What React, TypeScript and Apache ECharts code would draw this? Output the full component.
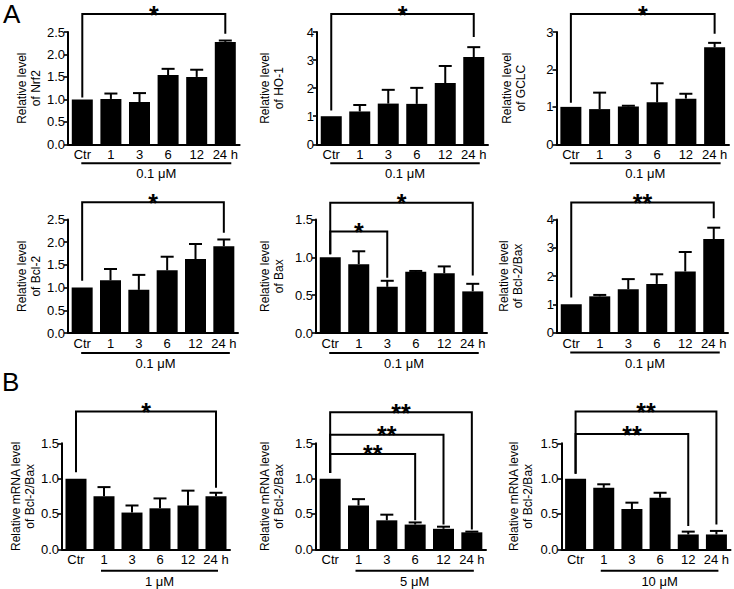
import React, { useEffect, useRef } from 'react';
import * as echarts from 'echarts';

const categories = ['Ctr', '1', '3', '6', '12', '24 h'];

const nrf2Mean = [1.0, 1.01, 0.94, 1.54, 1.5, 2.28];
const nrf2Err = [0, 0.12, 0.2, 0.14, 0.16, 0.03];
const ho1Mean = [1.0, 1.17, 1.45, 1.44, 2.18, 3.11];
const ho1Err = [0, 0.23, 0.49, 0.57, 0.61, 0.35];
const gclcMean = [1.0, 0.94, 1.01, 1.12, 1.22, 2.59];
const gclcErr = [0, 0.44, 0.02, 0.51, 0.13, 0.12];
const bcl2Mean = [1.0, 1.16, 0.95, 1.38, 1.63, 1.91];
const bcl2Err = [0, 0.25, 0.33, 0.3, 0.33, 0.15];
const baxMean = [1.0, 0.91, 0.61, 0.81, 0.79, 0.55];
const baxErr = [0, 0.17, 0.08, 0.01, 0.09, 0.1];
const ratioMean = [1.0, 1.28, 1.53, 1.72, 2.16, 3.31];
const ratioErr = [0, 0.05, 0.36, 0.34, 0.69, 0.4];
const mrna1Mean = [1.0, 0.75, 0.52, 0.58, 0.62, 0.75];
const mrna1Err = [0, 0.13, 0.1, 0.14, 0.21, 0.05];
const mrna5Mean = [1.0, 0.62, 0.41, 0.35, 0.29, 0.24];
const mrna5Err = [0, 0.09, 0.08, 0.03, 0.03, 0.01];
const mrna10Mean = [1.0, 0.87, 0.57, 0.73, 0.21, 0.21];
const mrna10Err = [0, 0.05, 0.09, 0.07, 0.04, 0.05];

const panelMeans = [nrf2Mean, ho1Mean, gclcMean, bcl2Mean, baxMean, ratioMean, mrna1Mean, mrna5Mean, mrna10Mean];
const panelErrs = [nrf2Err, ho1Err, gclcErr, bcl2Err, baxErr, ratioErr, mrna1Err, mrna5Err, mrna10Err];

const yNames = [
  'Relative level\nof Nrf2',
  'Relative level\nof HO-1',
  'Relative level\nof GCLC',
  'Relative level\nof Bcl-2',
  'Relative level\nof Bax',
  'Relative level\nof Bcl-2/Bax',
  'Relative mRNA level\nof Bcl-2/Bax',
  'Relative mRNA level\nof Bcl-2/Bax',
  'Relative mRNA level\nof Bcl-2/Bax',
];
const yMax = [2.5, 4, 3, 2.5, 1.5, 4, 1.5, 1.5, 1.5];
const yStep = [0.5, 1, 1, 0.5, 0.5, 1, 0.5, 0.5, 0.5];
const yDecimals = [1, 0, 0, 1, 1, 0, 1, 1, 1];

const doseLabels = ['0.1 μM', '0.1 μM', '0.1 μM', '0.1 μM', '0.1 μM', '0.1 μM', '1 μM', '5 μM', '10 μM'];
const doseStartIndex = [0, 0, 0, 0, 0, 0, 1, 1, 1];

// [panel, fromIndex, toIndex, bracketLevel, leftEnd, rightEnd]
const brackets = [
  [0, 0, 5, 2.9, 1.04, 2.46],
  [1, 0, 5, 4.64, 1.2, 3.82],
  [2, 0, 5, 3.48, 1.11, 2.95],
  [3, 0, 5, 2.88, 1.15, 2.21],
  [4, 0, 5, 1.72, 1.04, 0.76],
  [4, 0, 2, 1.34, 1.04, 0.73],
  [5, 0, 5, 4.6, 1.24, 4.04],
  [6, 0, 5, 1.95, 1.09, 0.87],
  [7, 0, 5, 1.94, 1.08, 0.28],
  [7, 0, 4, 1.62, 1.08, 0.35],
  [7, 0, 3, 1.35, 1.08, 0.41],
  [8, 0, 5, 1.95, 1.07, 0.35],
  [8, 0, 4, 1.63, 1.07, 0.33],
];
const bracketStars = ['*', '*', '*', '*', '*', '*', '**', '*', '**', '**', '**', '**', '**'];

// layout (pixels)
const grids = [
  { left: 68, top: 32, width: 171.6, height: 112.3 },
  { left: 317, top: 32, width: 171, height: 112.3 },
  { left: 556.5, top: 32, width: 172.5, height: 112.3 },
  { left: 68, top: 219.5, width: 170, height: 113.5 },
  { left: 316, top: 219.5, width: 171, height: 113.5 },
  { left: 557, top: 219.5, width: 171, height: 113 },
  { left: 62, top: 443.3, width: 168, height: 106 },
  { left: 316, top: 443.3, width: 170, height: 106 },
  { left: 561.5, top: 443.3, width: 169, height: 106 },
];
const nameGaps = [23, 31, 29, 22, 30, 32, 20, 30, 27];
const doseOffset = [19, 19, 19, 20, 20, 20, 21.5, 21.5, 21.5];

const FONT = '"Liberation Sans", Arial, Helvetica, sans-serif';

export default function App() {
  const ref = useRef<HTMLDivElement>(null);
  useEffect(() => {
    if (!ref.current) return;
    const chart = echarts.init(ref.current, undefined, { renderer: 'svg' });

    const xAxes: any[] = [];
    const yAxes: any[] = [];
    const series: any[] = [];

    grids.forEach((g, p) => {
      xAxes.push({
        type: 'category',
        gridIndex: p,
        data: categories,
        axisLine: { show: true, lineStyle: { color: '#000', width: 2 } },
        axisTick: { show: false },
        axisLabel: { color: '#000', fontSize: 13, fontFamily: FONT, margin: 4, interval: 0 },
        splitLine: { show: false },
      });
      yAxes.push({
        type: 'value',
        gridIndex: p,
        min: 0,
        max: yMax[p],
        interval: yStep[p],
        name: yNames[p],
        nameLocation: 'middle',
        nameRotate: 90,
        nameGap: nameGaps[p],
        nameTextStyle: { color: '#000', fontSize: 12, fontFamily: FONT, lineHeight: 14 },
        axisLine: { show: true, lineStyle: { color: '#000', width: 2 } },
        axisTick: { show: true, length: 4, lineStyle: { color: '#000', width: 1.6 } },
        axisLabel: {
          color: '#000',
          fontSize: 13,
          fontFamily: FONT,
          margin: 3,
          formatter: (v: number) => v.toFixed(yDecimals[p]),
        },
        splitLine: { show: false },
      });

      series.push({
        type: 'bar',
        xAxisIndex: p,
        yAxisIndex: p,
        data: panelMeans[p],
        barWidth: 21,
        itemStyle: { color: '#000' },
        silent: true,
      });

      series.push({
        type: 'custom',
        xAxisIndex: p,
        yAxisIndex: p,
        silent: true,
        encode: { x: 0, y: 1 },
        data: panelMeans[p].map((m, i) => [i, m, panelErrs[p][i]]),
        renderItem: (params: any, api: any) => {
          const idx = api.value(0);
          const m = api.value(1);
          const e = api.value(2);
          if (!e) return { type: 'group', children: [] };
          const p0 = api.coord([idx, m]);
          const p1 = api.coord([idx, m + e]);
          const st = { stroke: '#000', lineWidth: 2 };
          return {
            type: 'group',
            children: [
              { type: 'line', shape: { x1: p0[0], y1: p0[1], x2: p1[0], y2: p1[1] }, style: st },
              { type: 'line', shape: { x1: p1[0] - 6.5, y1: p1[1], x2: p1[0] + 6.5, y2: p1[1] }, style: st },
            ],
          };
        },
      });

      const myBrackets = brackets.map((b, k) => ({ b, k })).filter((o) => o.b[0] === p);
      series.push({
        type: 'custom',
        xAxisIndex: p,
        yAxisIndex: p,
        silent: true,
        clip: false,
        encode: { x: [0, 1], y: [2, 3, 4] },
        data: myBrackets.map((o) => [o.b[1], o.b[2], o.b[3], o.b[4], o.b[5], o.k]),
        renderItem: (params: any, api: any) => {
          const from = api.value(0);
          const to = api.value(1);
          const lvl = api.value(2);
          const le = api.value(3);
          const re = api.value(4);
          const k = api.value(5);
          const a = api.coord([from, lvl]);
          const b = api.coord([to, lvl]);
          const la = api.coord([from, le]);
          const rb = api.coord([to, re]);
          return {
            type: 'group',
            children: [
              {
                type: 'polyline',
                shape: { points: [[a[0], la[1]], [a[0], a[1]], [b[0], b[1]], [b[0], rb[1]]] },
                style: { stroke: '#000', lineWidth: 2, fill: 'none' },
              },
              {
                type: 'text',
                style: {
                  text: bracketStars[k],
                  x: (a[0] + b[0]) / 2,
                  y: a[1] + 0.5,
                  fill: '#000',
                  font: `bold 25px ${FONT}`,
                  align: 'center',
                  verticalAlign: 'middle',
                  textAlign: 'center',
                  textVerticalAlign: 'middle',
                },
              },
            ],
          };
        },
      });

      series.push({
        type: 'custom',
        xAxisIndex: p,
        yAxisIndex: p,
        silent: true,
        clip: false,
        encode: { x: [0, 1], y: 2 },
        data: [[doseStartIndex[p], categories.length - 1, 0]],
        renderItem: (params: any, api: any) => {
          const a = api.coord([api.value(0), 0]);
          const b = api.coord([api.value(1), 0]);
          const isB = p >= 6;
          const x1 = a[0] + (isB ? -3 : -1);
          const x2 = b[0] + (isB ? 2 : 6);
          const y = a[1] + doseOffset[p];
          return {
            type: 'group',
            children: [
              { type: 'line', shape: { x1, y1: y, x2, y2: y }, style: { stroke: '#000', lineWidth: 2 } },
              {
                type: 'text',
                style: {
                  text: doseLabels[p],
                  x: (x1 + x2) / 2,
                  y: y + 10.5,
                  fill: '#000',
                  font: `13px ${FONT}`,
                  align: 'center',
                  verticalAlign: 'middle',
                  textAlign: 'center',
                  textVerticalAlign: 'middle',
                },
              },
            ],
          };
        },
      });
    });

    chart.setOption({
      animation: false,
      backgroundColor: '#fff',
      grid: grids.map((g) => ({ ...g, containLabel: false })),
      xAxis: xAxes,
      yAxis: yAxes,
      series,
      graphic: [
        { type: 'text', left: 3, top: 1, style: { text: 'A', fill: '#000', font: `26px ${FONT}` } },
        { type: 'text', left: 2, top: 369, style: { text: 'B', fill: '#000', font: `26px ${FONT}` } },
      ],
    });

    return () => chart.dispose();
  }, []);

  return (
    <div
      ref={ref}
      style={{ position: 'fixed', left: 0, top: 0, width: 734, height: 589, background: '#fff' }}
    />
  );
}
